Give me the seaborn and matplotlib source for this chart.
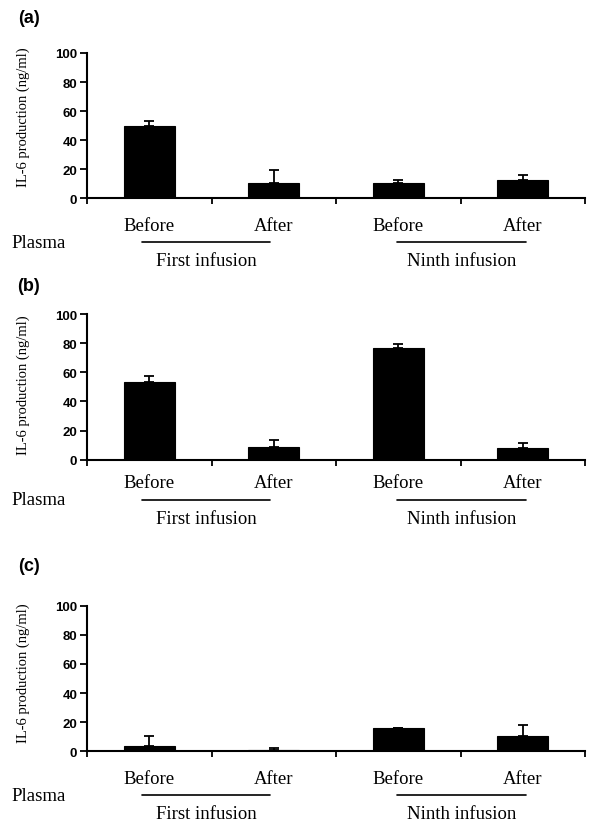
import numpy as np
import pandas as pd
import matplotlib
matplotlib.use("Agg")
import matplotlib.pyplot as plt
import matplotlib.transforms as mtransforms
import seaborn as sns

# IL-6 production (ng/ml), mean and upper error, per panel
conditions = ["Before first", "After first", "Before ninth", "After ninth"]
tick_labels = ["Before", "After", "Before", "After"]
groups = ["First infusion", "Ninth infusion"]
panel_names = ["(a)", "(b)", "(c)"]

a_mean = [50.0, 10.3, 10.5, 12.6]
a_err = [3.2, 9.2, 1.8, 3.7]
b_mean = [53.5, 8.5, 77.0, 8.3]
b_err = [4.1, 5.2, 2.3, 3.2]
c_mean = [3.4, 1.1, 15.8, 10.2]
c_err = [6.9, 1.1, 0.0, 7.8]

yticks = [0, 20, 40, 60, 80, 100]

sns.set_style("ticks")
plt.rcParams["font.family"] = ["Liberation Sans", "DejaVu Sans"]
plt.rcParams["text.color"] = "black"
plt.rcParams["ytick.color"] = "black"
plt.rcParams["xtick.color"] = "black"
SERIF = ["Liberation Serif", "DejaVu Serif"]

fig = plt.figure(figsize=(6, 8.29), dpi=100)

# axes rectangles and label row offsets (pixels below the x axis)
rects = [[0.145, 0.7596, 0.83, 0.1753],
         [0.145, 0.4443, 0.83, 0.1757],
         [0.145, 0.0925, 0.83, 0.1757]]
offsets = [[27, 44, 62], [23, 40, 59], [27, 44, 62]]
label_y = [0.978, 0.654, 0.317]
ylabel_y = [0.563, 0.52, 0.545]

panels = [(a_mean, a_err), (b_mean, b_err), (c_mean, c_err)]

for i, (means, errs) in enumerate(panels):
    ax = fig.add_axes(rects[i])
    df = pd.DataFrame({"condition": conditions, "value": means})
    sns.barplot(data=df, x="condition", y="value", order=conditions,
                color="black", saturation=1, width=0.41, errorbar=None,
                edgecolor="black", linewidth=0.8, ax=ax)
    ax.errorbar(np.arange(len(conditions)), means,
                yerr=[np.zeros(len(errs)), errs], fmt="none",
                ecolor="black", elinewidth=1.3, capsize=3.3, capthick=1.3)

    ax.set_xlim(-0.5, 3.5)
    ax.set_ylim(0, 100)
    ax.set_yticks(yticks)
    ax.set_xticks(np.arange(-0.5, 4, 1.0))
    ax.set_xticklabels([])
    ax.tick_params(axis="x", direction="out", length=4, width=1.3,
                   color="black")
    ax.tick_params(axis="y", direction="out", length=5, width=1.3,
                   labelsize=9.5, pad=2, color="black", labelcolor="black")
    for t in ax.get_yticklabels():
        t.set_fontweight("bold")
    ax.set_xlabel("")
    ax.set_ylabel("")
    sns.despine(ax=ax)
    for s in ["left", "bottom"]:
        ax.spines[s].set_linewidth(1.5)
        ax.spines[s].set_color("black")

    h = fig.get_figheight() * fig.dpi * rects[i][3]
    r1, r2, r3 = [-o / h for o in offsets[i]]
    trans = mtransforms.blended_transform_factory(ax.transData, ax.transAxes)

    for k, lab in enumerate(tick_labels):
        ax.text(k, r1, lab, transform=trans, ha="center", va="center",
                fontsize=13.5, family=SERIF)
    ax.text(-0.151, r2, "Plasma", transform=ax.transAxes, ha="left",
            va="center", fontsize=13.5, family=SERIF)
    for start, end, name in [(-0.055, 0.97, groups[0]), (1.99, 3.03, groups[1])]:
        ax.plot([start, end], [r2, r2], color="black", lw=1.2,
                transform=trans, clip_on=False)
        ax.text((start + end) / 2, r3, name, transform=trans, ha="center",
                va="center", fontsize=13.5, family=SERIF)

    ax.text(-0.127, ylabel_y[i], "IL-6 production (ng/ml)",
            transform=ax.transAxes, rotation=90, ha="center", va="center",
            fontsize=10.5, family=SERIF)

    fig.text(0.048, label_y[i], panel_names[i], ha="center", va="center",
             fontsize=13, fontweight="bold")

fig.savefig("out.png", dpi=100)
